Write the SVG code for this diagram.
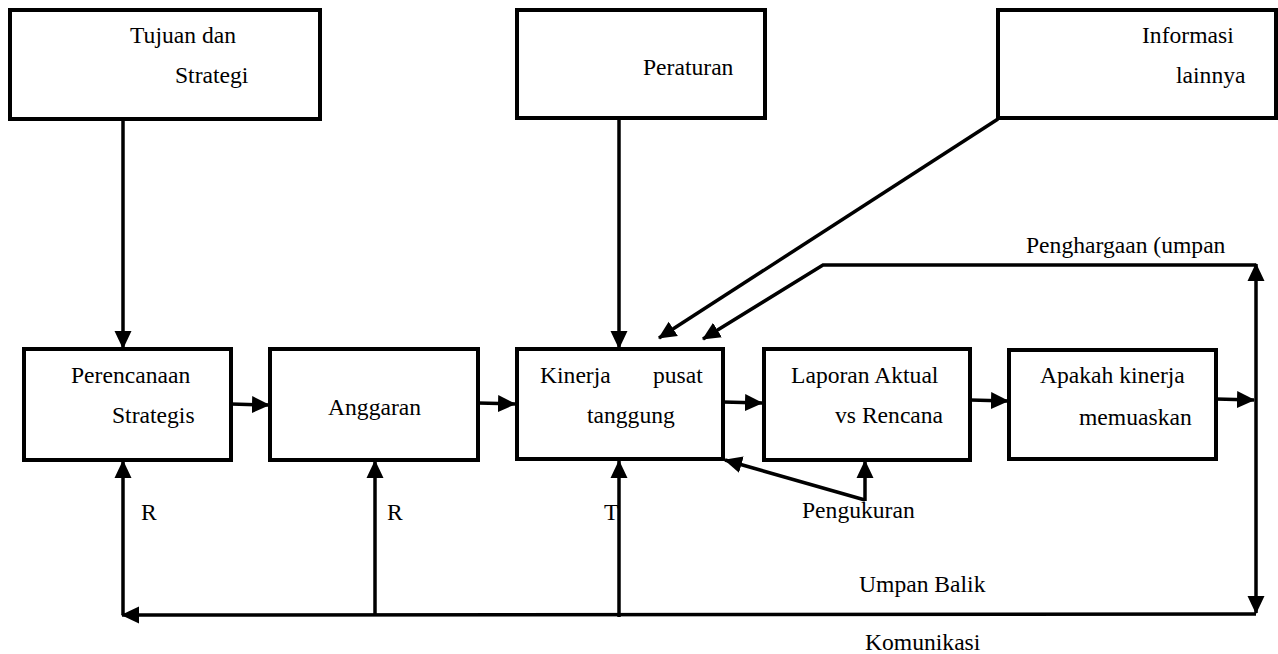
<svg xmlns="http://www.w3.org/2000/svg" width="1278" height="654" viewBox="0 0 1278 654">
  <style>
    .box { fill: #fff; stroke: #000; stroke-width: 4; }
    .lbl { font-family: "Liberation Serif", "Times New Roman", serif; font-size: 23.6px; fill: #000; }
    .ln { fill: none; stroke: #000; stroke-width: 3.5; }
  </style>
  <defs>
    <marker id="arr" markerUnits="userSpaceOnUse" markerWidth="18" markerHeight="18" viewBox="0 0 18 18" refX="17" refY="9" orient="auto">
      <path d="M0,0.5 L18,9 L0,17.5 Z" fill="#000"/>
    </marker>
    <marker id="arrStart" markerUnits="userSpaceOnUse" markerWidth="18" markerHeight="18" viewBox="0 0 18 18" refX="1" refY="9" orient="auto">
      <path d="M18,0.5 L0,9 L18,17.5 Z" fill="#000"/>
    </marker>
  </defs>

  <!-- connectors -->
  <g id="connectors">
    <!-- inputs from the top row -->
    <line class="ln" x1="123" y1="119" x2="123" y2="348" marker-end="url(#arr)"/>
    <line class="ln" x1="619" y1="118" x2="619" y2="348" marker-end="url(#arr)"/>
    <line class="ln" x1="998" y1="119" x2="659" y2="338" marker-end="url(#arr)"/>

    <!-- main flow -->
    <line class="ln" x1="231" y1="404" x2="269" y2="405" marker-end="url(#arr)"/>
    <line class="ln" x1="478" y1="403" x2="515" y2="404" marker-end="url(#arr)"/>
    <line class="ln" x1="723" y1="402" x2="762" y2="403" marker-end="url(#arr)"/>
    <line class="ln" x1="970" y1="400" x2="1008" y2="401" marker-end="url(#arr)"/>
    <line class="ln" x1="1216" y1="399" x2="1254" y2="400" marker-end="url(#arr)"/>

    <!-- reward loop -->
    <line class="ln" x1="1256" y1="613" x2="1256" y2="264" marker-start="url(#arrStart)" marker-end="url(#arr)"/>
    <polyline class="ln" points="1256,265 823,265 703,339" marker-end="url(#arr)"/>

    <!-- feedback / communication line -->
    <line class="ln" x1="1256" y1="614" x2="122" y2="615" marker-end="url(#arr)"/>
    <line class="ln" x1="123" y1="615" x2="123" y2="461" marker-end="url(#arr)"/>
    <line class="ln" x1="375" y1="615" x2="375" y2="461" marker-end="url(#arr)"/>
    <line class="ln" x1="619" y1="617" x2="619" y2="461" marker-end="url(#arr)"/>

    <!-- measurement -->
    <line class="ln" x1="865" y1="501" x2="865" y2="461" marker-end="url(#arr)"/>
    <line class="ln" x1="865" y1="500" x2="725" y2="460" marker-end="url(#arr)"/>
  </g>

  <g id="tujuan">
    <rect class="box" x="10" y="10" width="310" height="109"/>
    <text class="lbl" x="130" y="43">Tujuan dan</text>
    <text class="lbl" x="175" y="83">Strategi</text>
  </g>

  <g id="peraturan">
    <rect class="box" x="517" y="10" width="248" height="108"/>
    <text class="lbl" x="643" y="75">Peraturan</text>
  </g>

  <g id="informasi">
    <rect class="box" x="998" y="10" width="278" height="108"/>
    <text class="lbl" x="1142" y="43">Informasi</text>
    <text class="lbl" x="1176" y="83">lainnya</text>
  </g>

  <g id="perencanaan">
    <rect class="box" x="24" y="349" width="207" height="111"/>
    <text class="lbl" x="71" y="383">Perencanaan</text>
    <text class="lbl" x="112" y="423">Strategis</text>
  </g>

  <g id="anggaran">
    <rect class="box" x="270" y="349" width="208" height="111"/>
    <text class="lbl" x="328" y="415">Anggaran</text>
  </g>

  <g id="kinerja">
    <rect class="box" x="517" y="349" width="206" height="110"/>
    <text class="lbl" x="540" y="383">Kinerja</text>
    <text class="lbl" x="653" y="383">pusat</text>
    <text class="lbl" x="587" y="423">tanggung</text>
  </g>

  <g id="laporan">
    <rect class="box" x="764" y="349" width="206" height="111"/>
    <text class="lbl" x="791" y="383">Laporan Aktual</text>
    <text class="lbl" x="835" y="423">vs Rencana</text>
  </g>

  <g id="apakah">
    <rect class="box" x="1009" y="350" width="207" height="109"/>
    <text class="lbl" x="1040" y="383">Apakah kinerja</text>
    <text class="lbl" x="1079" y="425">memuaskan</text>
  </g>

  <g id="labels">
    <text class="lbl" x="1026" y="253">Penghargaan (umpan</text>
    <text class="lbl" x="141" y="520">R</text>
    <text class="lbl" x="387" y="520">R</text>
    <text class="lbl" x="604" y="520">T</text>
    <text class="lbl" x="802" y="518">Pengukuran</text>
    <text class="lbl" x="859" y="592">Umpan Balik</text>
    <text class="lbl" x="865" y="650">Komunikasi</text>
  </g>
</svg>
